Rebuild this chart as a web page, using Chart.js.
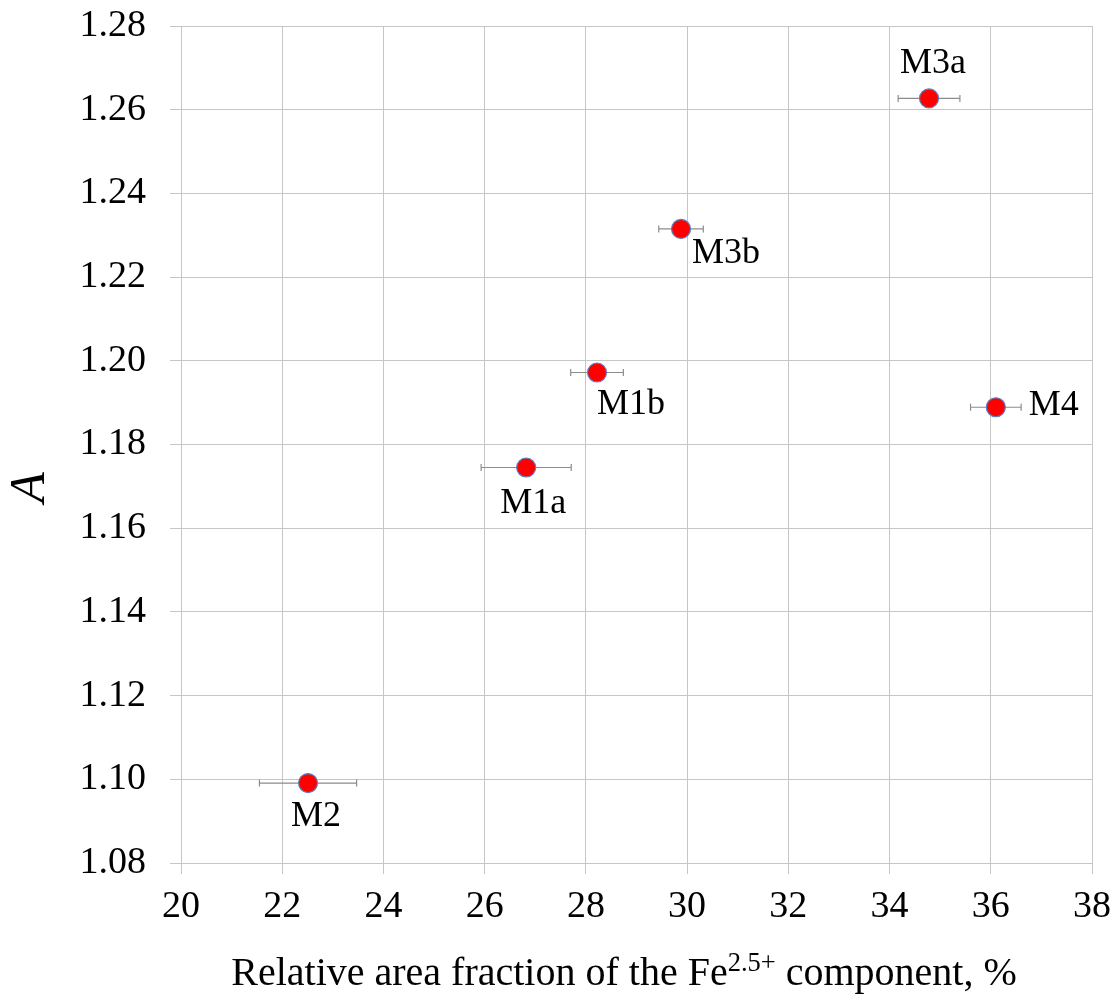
<!DOCTYPE html>
<html>
<head>
<meta charset="utf-8">
<script src="https://cdn.jsdelivr.net/npm/chart.js@4.4.1/dist/chart.umd.min.js"></script>
<style>
  html, body { margin: 0; padding: 0; background: #ffffff; }
  #wrap { width: 1118px; height: 998px; }
</style>
</head>
<body>
<div id="wrap"><canvas id="chart" width="1118" height="998"></canvas></div>
<script>
// Samples and their measured values
const sampleNames = ['M2', 'M1a', 'M1b', 'M3b', 'M3a', 'M4'];
const feFraction  = [22.51, 26.82, 28.22, 29.88, 34.78, 36.10];   // relative area fraction, %
const paramA      = [1.0991, 1.1745, 1.1972, 1.2315, 1.2627, 1.1889];
const feFractionErr = [0.96, 0.89, 0.52, 0.44, 0.61, 0.50];      // ± horizontal uncertainty

// Axis tick values
const xTicks = [20, 22, 24, 26, 28, 30, 32, 34, 36, 38];
const yTicks = [1.08, 1.10, 1.12, 1.14, 1.16, 1.18, 1.20, 1.22, 1.24, 1.26, 1.28];

// Where each sample name sits relative to its marker (pixels)
const labelOffsets = [[8, 33], [7, 36], [34, 32], [45, 25], [4, -35], [58, -2]];

const SERIF = '"Liberation Serif", "Times New Roman", serif';
const GRID = '#c6c6c6';

// Horizontal error bars with end caps
const errorBars = {
  id: 'errorBars',
  beforeDatasetsDraw(chart) {
    const { ctx, scales: { x, y } } = chart;
    ctx.save();
    ctx.strokeStyle = '#8c8c8c';
    ctx.lineWidth = 1.2;
    feFraction.forEach((v, i) => {
      const x0 = x.getPixelForValue(v - feFractionErr[i]);
      const x1 = x.getPixelForValue(v + feFractionErr[i]);
      const py = y.getPixelForValue(paramA[i]);
      ctx.beginPath();
      ctx.moveTo(x0, py); ctx.lineTo(x1, py);
      ctx.moveTo(x0, py - 3.5); ctx.lineTo(x0, py + 3.5);
      ctx.moveTo(x1, py - 3.5); ctx.lineTo(x1, py + 3.5);
      ctx.stroke();
    });
    ctx.restore();
  }
};

// Sample name labels and the axis titles
const annotations = {
  id: 'annotations',
  afterDraw(chart) {
    const { ctx, chartArea, scales: { x, y } } = chart;
    ctx.save();
    ctx.fillStyle = '#000000';
    ctx.font = '36px ' + SERIF;
    ctx.textAlign = 'center';
    ctx.textBaseline = 'middle';
    sampleNames.forEach((name, i) => {
      const px = x.getPixelForValue(feFraction[i]) + labelOffsets[i][0];
      const py = y.getPixelForValue(paramA[i]) + labelOffsets[i][1];
      ctx.fillText(name, px, py);
    });

    // x-axis title with superscript
    const mainFont = '40px ' + SERIF;
    const supFont = '26.5px ' + SERIF;
    const partA = 'Relative area fraction of the Fe';
    const partSup = '2.5+';
    const partB = ' component, %';
    ctx.font = mainFont;
    const wA = ctx.measureText(partA).width;
    const wB = ctx.measureText(partB).width;
    ctx.font = supFont;
    const wS = ctx.measureText(partSup).width;
    const total = wA + wS + wB;
    const cx = 624;
    const base = 985;
    let sx = cx - total / 2;
    ctx.textAlign = 'left';
    ctx.textBaseline = 'alphabetic';
    ctx.font = mainFont;
    ctx.fillText(partA, sx, base);
    sx += wA;
    ctx.font = supFont;
    ctx.fillText(partSup, sx, base - 14);
    sx += wS;
    ctx.font = mainFont;
    ctx.fillText(partB, sx, base);

    // y-axis title
    ctx.translate(31, (chartArea.top + chartArea.bottom) / 2 + 43);
    ctx.rotate(-Math.PI / 2);
    ctx.textAlign = 'center';
    ctx.textBaseline = 'middle';
    ctx.font = 'italic 50px ' + SERIF;
    ctx.fillText('A', 0, 0);
    ctx.restore();
  }
};

new Chart(document.getElementById('chart'), {
  type: 'scatter',
  data: {
    datasets: [{
      data: feFraction.map((v, i) => ({ x: v, y: paramA[i] })),
      pointRadius: 9.5,
      pointHoverRadius: 9.5,
      pointBackgroundColor: '#ff0000',
      pointBorderColor: '#5b7fc4',
      pointBorderWidth: 1.2,
      showLine: false
    }]
  },
  options: {
    responsive: false,
    animation: false,
    events: [],
    layout: { padding: { left: 0, top: 26, right: 26, bottom: 0 } },
    plugins: {
      legend: { display: false },
      tooltip: { enabled: false }
    },
    scales: {
      x: {
        type: 'linear',
        min: xTicks[0],
        max: xTicks[xTicks.length - 1],
        afterBuildTicks(axis) { axis.ticks = xTicks.map(v => ({ value: v })); },
        afterFit(axis) { axis.height = 135; axis.paddingLeft = 0; axis.paddingRight = 0; },
        grid: { color: GRID, lineWidth: 1, drawTicks: true, tickLength: 11, tickColor: GRID },
        border: { display: true, color: GRID, width: 1 },
        ticks: {
          color: '#000000',
          font: { family: SERIF, size: 38 },
          padding: 10,
          maxRotation: 0,
          callback: v => String(v)
        }
      },
      y: {
        type: 'linear',
        min: yTicks[0],
        max: yTicks[yTicks.length - 1],
        afterBuildTicks(axis) { axis.ticks = yTicks.map(v => ({ value: v })); },
        afterFit(axis) { axis.width = 181; axis.paddingTop = 0; axis.paddingBottom = 0; },
        grid: { color: GRID, lineWidth: 1, drawTicks: true, tickLength: 11, tickColor: GRID },
        border: { display: true, color: GRID, width: 1 },
        ticks: {
          color: '#000000',
          font: { family: SERIF, size: 38 },
          padding: 24,
          callback: v => v.toFixed(2)
        }
      }
    }
  },
  plugins: [errorBars, annotations]
});
</script>
</body>
</html>
